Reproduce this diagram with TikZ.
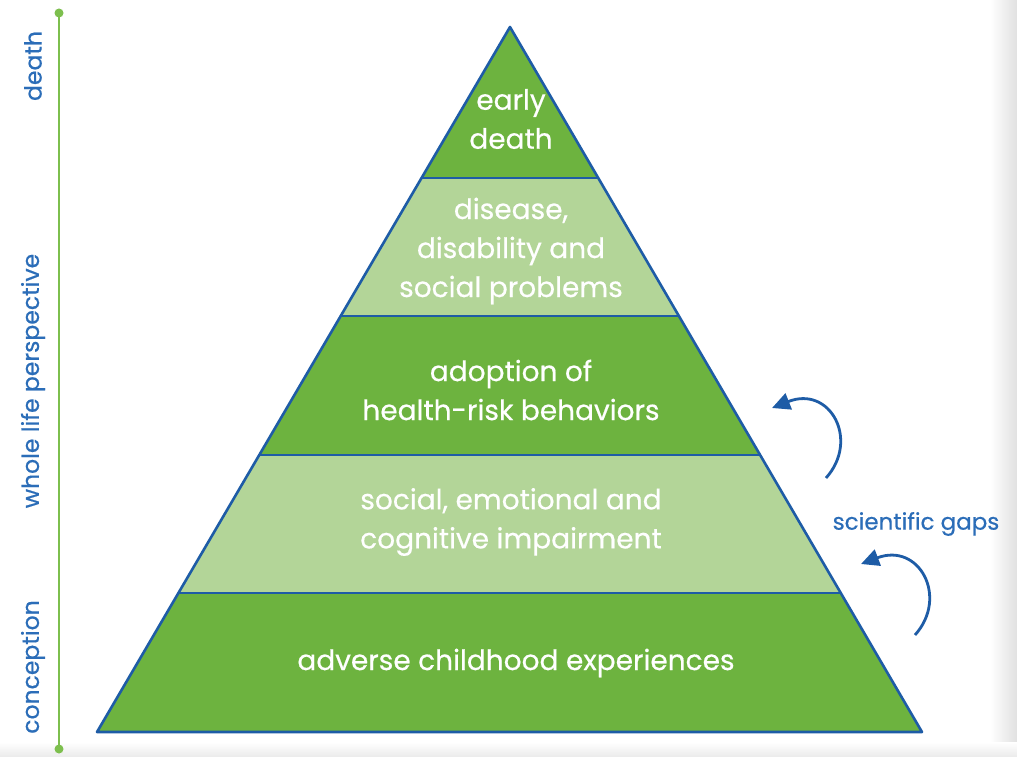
\documentclass[tikz,border=0pt]{standalone}
\usepackage{fontspec}
\setmainfont{Poppins}
\newfontfamily\medfont[FakeBold=0.5]{Poppins}
\usetikzlibrary{arrows.meta}
\definecolor{dgreen}{HTML}{6DB33F}
\definecolor{lgreen}{HTML}{B3D598}
\definecolor{edgeblue}{HTML}{1E5CA6}
\definecolor{txtblue}{HTML}{2B6DB8}
\definecolor{axisgreen}{HTML}{7DBF4E}
\tikzset{
  band/.style={draw=edgeblue, line width=2.6pt, line join=round},
  bandtxt/.style={text=white, font=\medfont\fontsize{28}{39}\selectfont, align=center, inner sep=0pt},
  sidetxt/.style={text=txtblue, font=\medfont\fontsize{23.5}{26}\selectfont, rotate=90, inner sep=0pt},
  gaparrow/.style={draw=edgeblue, line width=2.8pt, -{Triangle[length=18pt,width=17pt]}},
}
\begin{document}
\begin{tikzpicture}[x=1pt,y=-1pt]
\useasboundingbox (0,0) rectangle (1017,757);
\fill[white] (0,0) rectangle (1017,757);
\shade[left color=white, right color=black!12] (990,0) rectangle (1017,757);
\shade[top color=white, bottom color=black!8] (0,742) rectangle (1017,757);
% axis
\coordinate (top) at (59,13);
\coordinate (bot) at (59,749);
\draw[axisgreen, line width=2.2pt] (top) -- (bot);
\fill[axisgreen] (top) circle (4.5pt);
\fill[axisgreen] (bot) circle (4.5pt);
\node[sidetxt] (death) at (33,66) {death};
\node[sidetxt] (whole) at (33,381) {whole life perspective};
\node[sidetxt] (concep) at (33,667) {conception};
% bands
\fill[dgreen] (510,27) -- (598.2,178) -- (421.5,178) -- cycle;
\fill[lgreen] (421.5,178) -- (598.2,178) -- (678.9,316) -- (340.7,316) -- cycle;
\fill[dgreen] (340.7,316) -- (678.9,316) -- (760.1,455) -- (259.3,455) -- cycle;
\fill[lgreen] (259.3,455) -- (760.1,455) -- (840.8,593) -- (178.4,593) -- cycle;
\fill[dgreen] (178.4,593) -- (840.8,593) -- (922,732) -- (97,732) -- cycle;
\draw[band] (510,27) -- (922,732) -- (97,732) -- cycle;
\draw[band] (421.5,178) -- (598.2,178);
\draw[band] (340.7,316) -- (678.9,316);
\draw[band] (259.3,455) -- (760.1,455);
\draw[band] (178.4,593) -- (840.8,593);
% texts
\node[bandtxt] (t1) at (511,119) {early\\death};
\node[bandtxt] (t2) at (511,251) {disease,\\disability and\\social problems};
\node[bandtxt] (t3) at (511,390) {adoption of\\health-risk behaviors};
\node[bandtxt] (t4) at (511,522) {social, emotional and\\cognitive impairment};
\node[bandtxt] (t5) at (516,663) {adverse childhood experiences};
\node[text=txtblue, font=\medfont\fontsize{23}{26}\selectfont, inner sep=0pt] (gaps) at (916,524) {scientific gaps};
% arrows
\coordinate (a1s) at (826,478);
\coordinate (a1e) at (772,408);
\coordinate (a2s) at (915,635);
\coordinate (a2e) at (861,564);
\draw[gaparrow] (a1s) .. controls (860,440) and (830,385) .. (a1e);
\draw[gaparrow] (a2s) .. controls (949,597) and (919,542) .. (a2e);
\end{tikzpicture}
\end{document}
